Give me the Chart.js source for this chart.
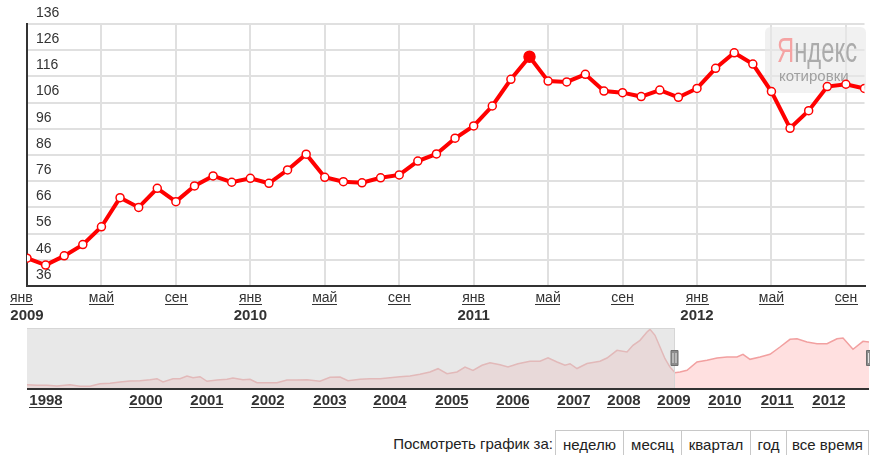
<!DOCTYPE html>
<html>
<head>
<meta charset="utf-8">
<script src="https://cdn.jsdelivr.net/npm/chart.js"></script>
<style>
  html, body { margin: 0; padding: 0; background: #fff; width: 870px; height: 455px; overflow: hidden; }
  #main { position: absolute; left: 0; top: 0; }
  #nav { position: absolute; left: 0; top: 322px; }
  #period { position: absolute; left: 0; top: 430px; width: 870px; height: 30px;
            font-family: "Liberation Sans", Arial, sans-serif; font-size: 15px; color: #222; }
  #period .lbl { position: absolute; right: 317px; top: 0; line-height: 28px; }
  #period .btns { position: absolute; left: 555px; top: 0; display: flex; }
  #period .btns div { box-sizing: border-box; height: 30px; line-height: 28px; text-align: center;
                      border: 1px solid #c8c8c8; border-right: none; }
  #period .btns div:last-child { border-right: 1px solid #c8c8c8; }
</style>
</head>
<body>
<canvas id="main" width="870" height="322"></canvas>
<canvas id="nav" width="870" height="100"></canvas>
<div id="period">
  <span class="lbl">Посмотреть график за:</span>
  <div class="btns">
    <div style="width:68px">неделю</div>
    <div style="width:58px">месяц</div>
    <div style="width:69px">квартал</div>
    <div style="width:36px">год</div>
    <div style="width:83px">все время</div>
  </div>
</div>
<script>
// ---- main chart data (monthly) ----
const categories = [
  'янв 2009','фев 2009','мар 2009','апр 2009','май 2009','июн 2009','июл 2009','авг 2009','сен 2009','окт 2009','ноя 2009','дек 2009',
  'янв 2010','фев 2010','мар 2010','апр 2010','май 2010','июн 2010','июл 2010','авг 2010','сен 2010','окт 2010','ноя 2010','дек 2010',
  'янв 2011','фев 2011','мар 2011','апр 2011','май 2011','июн 2011','июл 2011','авг 2011','сен 2011','окт 2011','ноя 2011','дек 2011',
  'янв 2012','фев 2012','мар 2012','апр 2012','май 2012','июн 2012','июл 2012','авг 2012','сен 2012','окт 2012'
];
const values = [
  46.6, 44.0, 47.5, 51.8, 58.6, 69.7, 66.0, 73.3, 68.2, 74.2, 78.0, 75.6,
  77.1, 75.2, 80.3, 86.3, 77.5, 75.8, 75.4, 77.3, 78.4, 83.7, 86.4, 92.4,
  97.1, 104.7, 114.9, 123.5, 114.2, 113.9, 116.8, 110.4, 109.8, 108.3, 110.8, 108.0,
  111.4, 119.1, 125.0, 120.7, 110.2, 96.2, 102.9, 112.1, 113.0, 111.4
];
const highlightIndex = 27; // апр 2011
const yTicksMin = 36, yTicksMax = 136, yTicksStep = 10;

// ---- navigator (overview) data: sample slot -> value ----
const navSlots = [0,10,20,30,43,53,63,73,83,93,103,113,123,130,136,146,153,160,166,173,180,190,200,206,216,223,230,240,250,260,270,280,293,303,313,321,333,343,353,363,373,383,393,403,411,420,430,438,446,455,463,473,481,491,503,513,521,530,538,543,550,560,573,580,590,600,606,613,620,623,628,633,638,643,648,653,660,670,680,690,700,710,716,723,733,743,753,763,770,780,790,800,810,816,826,836,842];
const navValues = [10.3,8.8,8.8,7.2,10.3,6.4,6.4,12.8,13.6,16.7,19.1,19.9,22.3,24.7,16.7,24.7,24.7,31,27,29.4,18.4,21.5,23.1,26.3,22.3,23.1,15.1,15.1,15.1,21.5,21.5,22,18.4,28,28.7,19.9,23.1,24.7,24.7,27,29.4,31.1,35.1,40.7,48.6,36.7,40.7,52.6,44.7,56.7,62.9,58.1,52.6,60.5,66.3,66.3,74.9,64.6,56.7,60.5,49,61,66.3,74.2,92.6,88.5,104.5,116.5,136.4,142.8,128.5,100.5,72.5,52.6,39,40.7,44.7,64.6,68.7,74.2,76.6,76.6,83,71,76.6,83,100.5,118.9,120.3,112.4,108.4,108.4,120.3,122,95,114,112.4];
const navYears = ['1998','2000','2001','2002','2003','2004','2005','2006','2007','2008','2009','2010','2011','2012'];
const navYearSlots = [19,119,180,241,303,363,425,486,547,597,647,698,750,802];
const navSelectedFromYear = '2009';

const FONT = '"Liberation Sans", Arial, sans-serif';

function underlineText(ctx, text, x, y, align) {
  ctx.textAlign = align;
  ctx.fillText(text, x, y);
  const w = ctx.measureText(text).width;
  let x0 = align === 'left' ? x : x - w / 2;
  ctx.fillRect(Math.round(x0), Math.round(y + 2), Math.round(w), 1);
}

const mainPlugin = {
  id: 'mainDecor',
  beforeDatasetsDraw(chart) {
    const ctx = chart.ctx;
    ctx.save();
    // Yandex watermark
    const x = 765, y = 27, w = 101, h = 66, r = 6;
    ctx.fillStyle = 'rgba(232,232,232,0.6)';
    ctx.beginPath();
    ctx.moveTo(x + r, y); ctx.lineTo(x + w - r, y); ctx.quadraticCurveTo(x + w, y, x + w, y + r);
    ctx.lineTo(x + w, y + h - r); ctx.quadraticCurveTo(x + w, y + h, x + w - r, y + h);
    ctx.lineTo(x + r, y + h); ctx.quadraticCurveTo(x, y + h, x, y + h - r);
    ctx.lineTo(x, y + r); ctx.quadraticCurveTo(x, y, x + r, y);
    ctx.fill();
    ctx.textBaseline = 'alphabetic';
    ctx.textAlign = 'left';
    ctx.translate(777, 61.5);
    ctx.scale(0.68, 1);
    ctx.font = '35px ' + FONT;
    ctx.fillStyle = '#f5a3a3';
    ctx.fillText('Я', 0, 0);
    const wY = ctx.measureText('Я').width;
    ctx.fillStyle = '#ababab';
    ctx.fillText('ндекс', wY, 0);
    ctx.restore();
    ctx.save();
    ctx.font = '15px ' + FONT;
    ctx.fillStyle = '#a0a0a0';
    ctx.textBaseline = 'alphabetic';
    ctx.fillText('котировки', 779, 80.5);
    ctx.restore();
  },
  afterDraw(chart) {
    const ctx = chart.ctx;
    const xs = chart.scales.x;
    ctx.save();
    ctx.fillStyle = '#333';
    ctx.textBaseline = 'alphabetic';
    categories.forEach((c, i) => {
      if (i % 4 !== 0) return;
      const parts = c.split(' ');
      const px = xs.getPixelForValue(i);
      ctx.font = '14px ' + FONT;
      if (i === 0) underlineText(ctx, parts[0], 10, 302, 'left');
      else underlineText(ctx, parts[0], px, 302, 'center');
      if (parts[0] === 'янв') {
        ctx.font = 'bold 15px ' + FONT;
        underlineText(ctx, parts[1], px, 320, 'center');
      }
    });
    ctx.restore();
  }
};

new Chart(document.getElementById('main'), {
  type: 'line',
  data: {
    labels: categories,
    datasets: [{
      data: values,
      borderColor: '#ff0000',
      borderWidth: 4,
      tension: 0,
      pointRadius: values.map((v, i) => i === highlightIndex ? 5.5 : 4),
      pointBackgroundColor: values.map((v, i) => i === highlightIndex ? '#ff0000' : '#ffffff'),
      pointBorderColor: '#ff0000',
      pointBorderWidth: 1.5,
      clip: { left: 0, right: 0, top: 10, bottom: 10 }
    }]
  },
  options: {
    responsive: false,
    devicePixelRatio: 1,
    animation: false,
    events: [],
    layout: { padding: { left: 9, right: 1, top: 24, bottom: 36 } },
    plugins: { legend: { display: false }, tooltip: { enabled: false } },
    scales: {
      x: {
        type: 'category',
        offset: false,
        ticks: { display: false },
        grid: {
          drawTicks: false,
          lineWidth: 2,
          color: (c) => (c.index % 4 === 0 ? '#e0e0e0' : 'rgba(0,0,0,0)')
        },
        border: { color: '#333', width: 2 }
      },
      y: {
        min: yTicksMin,
        max: yTicksMax,
        ticks: {
          stepSize: yTicksStep,
          mirror: true,
          padding: 9,
          labelOffset: -11,
          color: '#333',
          font: { family: FONT, size: 14 }
        },
        grid: { drawTicks: false, lineWidth: 2, color: '#e0e0e0' },
        border: { color: '#333', width: 2 }
      }
    }
  },
  plugins: [mainPlugin]
});

const navPlugin = {
  id: 'navDecor',
  afterDatasetsDraw(chart) {
    const ctx = chart.ctx;
    const a = chart.chartArea;
    const xs = chart.scales.x;
    const selX = Math.round(xs.getPixelForValue(navYearSlots[navYears.indexOf(navSelectedFromYear)]));
    ctx.save();
    // dimmed (not selected) region
    ctx.fillStyle = 'rgba(209,209,209,0.5)';
    ctx.fillRect(a.left, a.top, selX - a.left, a.bottom - a.top);
    ctx.fillStyle = '#d6d6d6';
    ctx.fillRect(a.left, a.top, selX - a.left, 1);
    ctx.fillRect(selX, a.top, 1, a.bottom - a.top);
    // axis line
    ctx.fillStyle = '#333';
    ctx.fillRect(a.left, a.bottom - 1, a.right - a.left, 2);
    // handles
    function handle(cx) {
      ctx.fillStyle = '#8c8c8c';
      ctx.strokeStyle = '#6e6e6e';
      ctx.lineWidth = 1;
      ctx.beginPath();
      ctx.rect(cx - 3.5, a.top + 22.5, 7, 15);
      ctx.fill(); ctx.stroke();
      ctx.fillStyle = '#e6e6e6';
      ctx.fillRect(cx - 2, a.top + 25, 1, 10);
      ctx.fillRect(cx + 1, a.top + 25, 1, 10);
    }
    handle(selX + 0.5);
    handle(a.right + 1);
    // year labels
    ctx.fillStyle = '#333';
    ctx.font = 'bold 15px ' + FONT;
    ctx.textBaseline = 'alphabetic';
    navYears.forEach((yr, i) => {
      underlineText(ctx, yr, xs.getPixelForValue(navYearSlots[i]), a.bottom + 16, 'center');
    });
    ctx.restore();
  }
};

new Chart(document.getElementById('nav'), {
  type: 'line',
  data: {
    datasets: [{
      data: navSlots.map((s, i) => ({ x: s, y: navValues[i] })),
      borderColor: '#f2a0a0',
      borderWidth: 1.5,
      backgroundColor: '#ffe0e0',
      fill: 'origin',
      pointRadius: 0,
      tension: 0
    }]
  },
  options: {
    responsive: false,
    devicePixelRatio: 1,
    animation: false,
    events: [],
    layout: { padding: { left: 27, right: 1, top: 6, bottom: 33 } },
    plugins: { legend: { display: false }, tooltip: { enabled: false } },
    scales: {
      x: { type: 'linear', min: 0, max: 842, display: false },
      y: { min: 0, max: 146, display: false }
    }
  },
  plugins: [navPlugin]
});
</script>
</body>
</html>
